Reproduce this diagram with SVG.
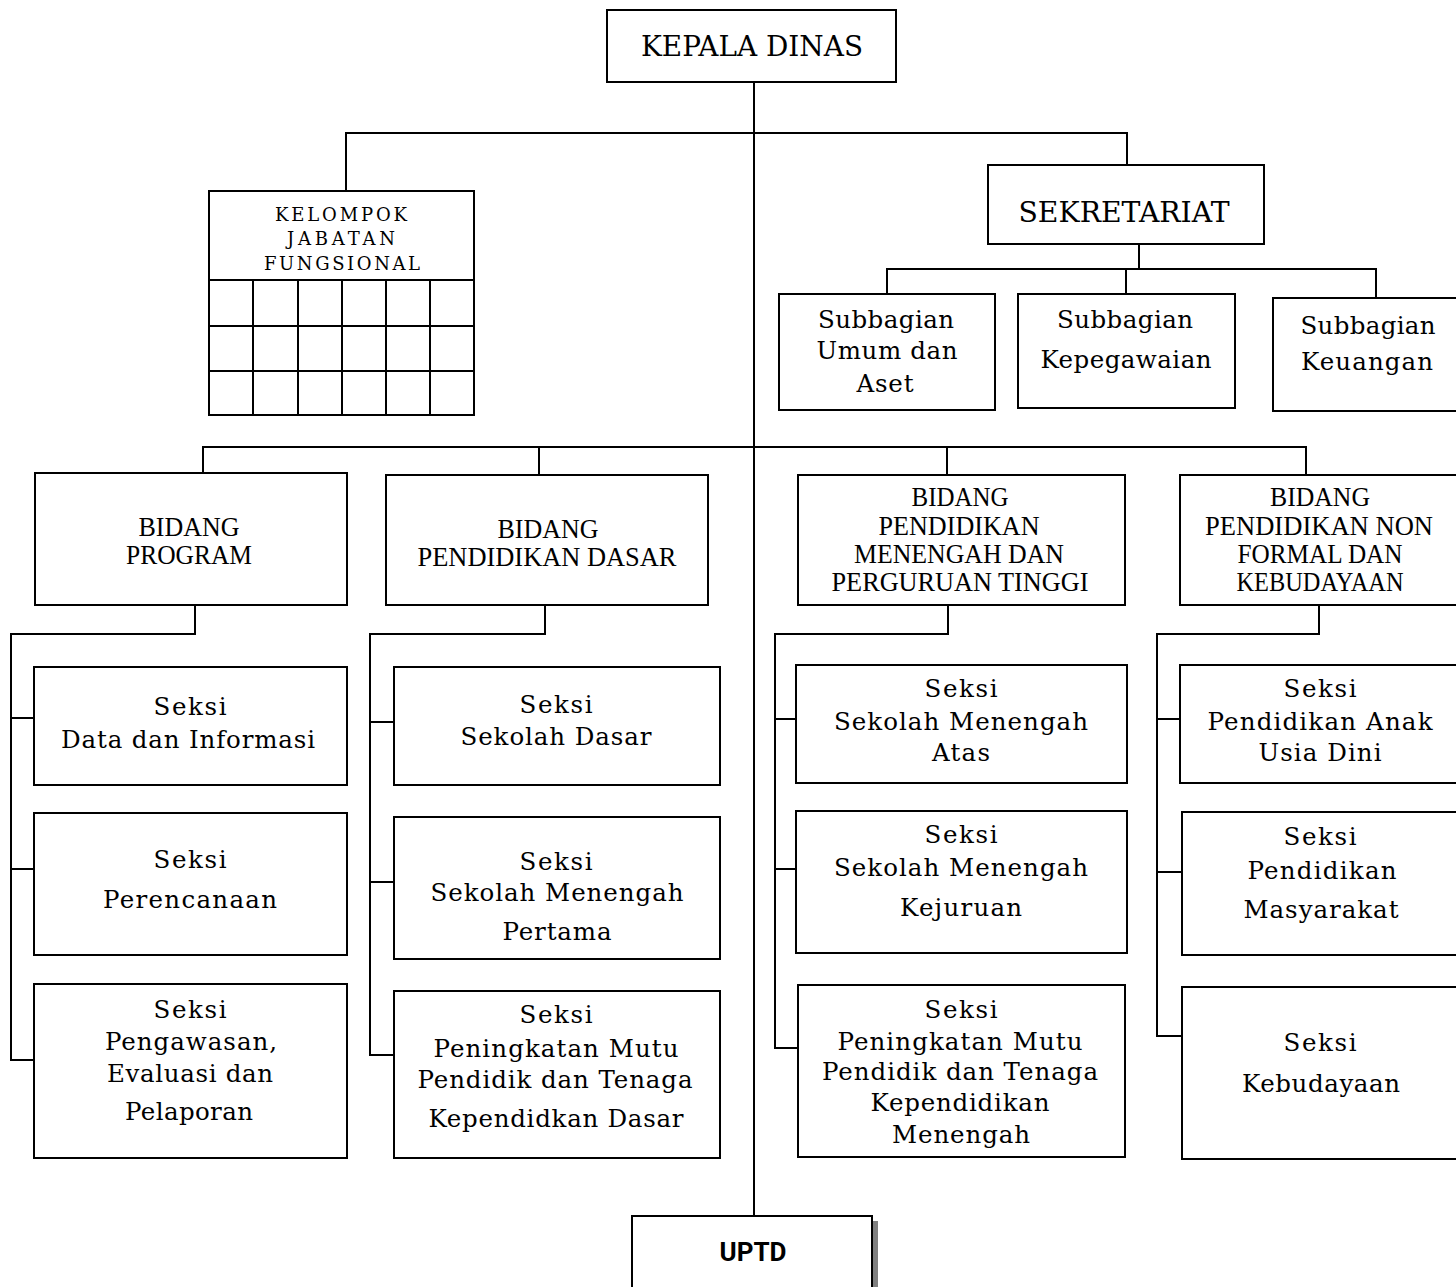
<svg xmlns="http://www.w3.org/2000/svg" width="1456" height="1287" viewBox="0 0 1456 1287">
<style>
.box{fill:#fff;stroke:#000;stroke-width:2}
.ln{fill:none;stroke:#000;stroke-width:2}
.hd{font-family:"DejaVu Serif","Liberation Serif",serif;font-size:27px;fill:#000;text-anchor:middle}
.kf{font-family:"DejaVu Serif","Liberation Serif",serif;font-size:18px;fill:#000;text-anchor:middle}
.bd{font-family:"Liberation Serif","DejaVu Serif",serif;font-size:27px;fill:#000;text-anchor:middle}
.sk{font-family:"DejaVu Serif","Liberation Serif",serif;font-size:24.5px;fill:#000;text-anchor:middle}
.up{font-family:Roboto,"Liberation Sans",sans-serif;font-size:25px;font-weight:bold;fill:#000;text-anchor:middle}
</style>
<g id="connectors">
<path class="ln" d="M754 82V1216"/>
<path class="ln" d="M346 190V133H1127V165"/>
<path class="ln" d="M1139 244V269"/>
<path class="ln" d="M887 294V269H1376V298"/>
<path class="ln" d="M1126 269V294"/>
<path class="ln" d="M203 473V447H1306V475"/>
<path class="ln" d="M539 447V475"/>
<path class="ln" d="M947 447V475"/>
<path class="ln" d="M195 605V634H11V1060H34"/>
<path class="ln" d="M11 718H34M11 869H34"/>
<path class="ln" d="M545 605V634H370V1055H394"/>
<path class="ln" d="M370 722H394M370 882H394"/>
<path class="ln" d="M948 605V634H775V1048H798"/>
<path class="ln" d="M775 719H796M775 869H796"/>
<path class="ln" d="M1319 605V634H1157V1036H1182"/>
<path class="ln" d="M1157 719H1180M1157 872H1182"/>
</g>
<g id="kepala-dinas">
<rect class="box" x="607" y="10" width="289" height="72"/>
<text class="hd" x="752" y="56" textLength="222" lengthAdjust="spacingAndGlyphs">KEPALA DINAS</text>
</g>
<g id="kelompok">
<rect class="box" x="209" y="191" width="265" height="224"/>
<path class="ln" d="M209 280H474M209 326H474M209 371H474M253 280V415M298 280V415M342 280V415M386 280V415M430 280V415"/>
<text class="kf" x="341" y="221" textLength="132" lengthAdjust="spacing">KELOMPOK</text>
<text class="kf" x="341" y="245" textLength="108" lengthAdjust="spacing">JABATAN</text>
<text class="kf" x="342" y="270" textLength="156" lengthAdjust="spacing">FUNGSIONAL</text>
</g>
<g id="sekretariat">
<rect class="box" x="988" y="165" width="276" height="79"/>
<text class="hd" x="1124" y="222" textLength="211" lengthAdjust="spacingAndGlyphs">SEKRETARIAT</text>
</g>
<g id="sub-umum">
<rect class="box" x="779" y="294" width="216" height="116"/>
<text class="sk" x="886" y="328" textLength="136" lengthAdjust="spacing">Subbagian</text>
<text class="sk" x="887" y="359" textLength="141" lengthAdjust="spacing">Umum dan</text>
<text class="sk" x="885" y="392" textLength="57" lengthAdjust="spacing">Aset</text>
</g>
<g id="sub-kepegawaian">
<rect class="box" x="1018" y="294" width="217" height="114"/>
<text class="sk" x="1125" y="328" textLength="136" lengthAdjust="spacing">Subbagian</text>
<text class="sk" x="1126" y="368" textLength="171" lengthAdjust="spacing">Kepegawaian</text>
</g>
<g id="sub-keuangan">
<rect class="box" x="1273" y="298" width="200" height="113"/>
<text class="sk" x="1368" y="334" textLength="135" lengthAdjust="spacing">Subbagian</text>
<text class="sk" x="1367" y="370" textLength="132" lengthAdjust="spacing">Keuangan</text>
</g>
<g id="bidang-program">
<rect class="box" x="35" y="473" width="312" height="132"/>
<text class="bd" x="189" y="536" textLength="101" lengthAdjust="spacingAndGlyphs">BIDANG</text>
<text class="bd" x="189" y="564" textLength="126" lengthAdjust="spacingAndGlyphs">PROGRAM</text>
</g>
<g id="bidang-dasar">
<rect class="box" x="386" y="475" width="322" height="130"/>
<text class="bd" x="548" y="538" textLength="101" lengthAdjust="spacingAndGlyphs">BIDANG</text>
<text class="bd" x="547" y="566" textLength="259" lengthAdjust="spacingAndGlyphs">PENDIDIKAN DASAR</text>
</g>
<g id="bidang-menengah">
<rect class="box" x="798" y="475" width="327" height="130"/>
<text class="bd" x="960" y="506" textLength="97" lengthAdjust="spacingAndGlyphs">BIDANG</text>
<text class="bd" x="959" y="535" textLength="161" lengthAdjust="spacingAndGlyphs">PENDIDIKAN</text>
<text class="bd" x="959" y="563" textLength="210" lengthAdjust="spacingAndGlyphs">MENENGAH DAN</text>
<text class="bd" x="960" y="591" textLength="257" lengthAdjust="spacingAndGlyphs">PERGURUAN TINGGI</text>
</g>
<g id="bidang-nonformal">
<rect class="box" x="1180" y="475" width="290" height="130"/>
<text class="bd" x="1320" y="506" textLength="100" lengthAdjust="spacingAndGlyphs">BIDANG</text>
<text class="bd" x="1319" y="535" textLength="228" lengthAdjust="spacingAndGlyphs">PENDIDIKAN NON</text>
<text class="bd" x="1320" y="563" textLength="165" lengthAdjust="spacingAndGlyphs">FORMAL DAN</text>
<text class="bd" x="1320" y="591" textLength="167" lengthAdjust="spacingAndGlyphs">KEBUDAYAAN</text>
</g>
<g id="seksi-data">
<rect class="box" x="34" y="667" width="313" height="118"/>
<text class="sk" x="190" y="715" textLength="73" lengthAdjust="spacing">Seksi</text>
<text class="sk" x="188" y="748" textLength="254" lengthAdjust="spacing">Data dan Informasi</text>
</g>
<g id="seksi-perencanaan">
<rect class="box" x="34" y="813" width="313" height="142"/>
<text class="sk" x="190" y="868" textLength="73" lengthAdjust="spacing">Seksi</text>
<text class="sk" x="190" y="908" textLength="174" lengthAdjust="spacing">Perencanaan</text>
</g>
<g id="seksi-pengawasan">
<rect class="box" x="34" y="984" width="313" height="174"/>
<text class="sk" x="190" y="1018" textLength="73" lengthAdjust="spacing">Seksi</text>
<text class="sk" x="191" y="1050" textLength="172" lengthAdjust="spacing">Pengawasan,</text>
<text class="sk" x="190" y="1082" textLength="166" lengthAdjust="spacing">Evaluasi dan</text>
<text class="sk" x="189" y="1120" textLength="128" lengthAdjust="spacing">Pelaporan</text>
</g>
<g id="seksi-sd">
<rect class="box" x="394" y="667" width="326" height="118"/>
<text class="sk" x="556" y="713" textLength="73" lengthAdjust="spacing">Seksi</text>
<text class="sk" x="556" y="745" textLength="191" lengthAdjust="spacing">Sekolah Dasar</text>
</g>
<g id="seksi-smp">
<rect class="box" x="394" y="817" width="326" height="142"/>
<text class="sk" x="556" y="870" textLength="73" lengthAdjust="spacing">Seksi</text>
<text class="sk" x="557" y="901" textLength="253" lengthAdjust="spacing">Sekolah Menengah</text>
<text class="sk" x="557" y="940" textLength="109" lengthAdjust="spacing">Pertama</text>
</g>
<g id="seksi-ptk-dasar">
<rect class="box" x="394" y="991" width="326" height="167"/>
<text class="sk" x="556" y="1023" textLength="73" lengthAdjust="spacing">Seksi</text>
<text class="sk" x="556" y="1057" textLength="245" lengthAdjust="spacing">Peningkatan Mutu</text>
<text class="sk" x="555" y="1088" textLength="275" lengthAdjust="spacing">Pendidik dan Tenaga</text>
<text class="sk" x="556" y="1127" textLength="255" lengthAdjust="spacing">Kependidkan Dasar</text>
</g>
<g id="seksi-sma">
<rect class="box" x="796" y="665" width="331" height="118"/>
<text class="sk" x="961" y="697" textLength="73" lengthAdjust="spacing">Seksi</text>
<text class="sk" x="961" y="730" textLength="254" lengthAdjust="spacing">Sekolah Menengah</text>
<text class="sk" x="961" y="761" textLength="58" lengthAdjust="spacing">Atas</text>
</g>
<g id="seksi-smk">
<rect class="box" x="796" y="811" width="331" height="142"/>
<text class="sk" x="961" y="843" textLength="73" lengthAdjust="spacing">Seksi</text>
<text class="sk" x="961" y="876" textLength="254" lengthAdjust="spacing">Sekolah Menengah</text>
<text class="sk" x="961" y="916" textLength="122" lengthAdjust="spacing">Kejuruan</text>
</g>
<g id="seksi-ptk-menengah">
<rect class="box" x="798" y="985" width="327" height="172"/>
<text class="sk" x="961" y="1018" textLength="73" lengthAdjust="spacing">Seksi</text>
<text class="sk" x="960" y="1050" textLength="245" lengthAdjust="spacing">Peningkatan Mutu</text>
<text class="sk" x="960" y="1080" textLength="276" lengthAdjust="spacing">Pendidik dan Tenaga</text>
<text class="sk" x="960" y="1111" textLength="179" lengthAdjust="spacing">Kependidikan</text>
<text class="sk" x="961" y="1143" textLength="138" lengthAdjust="spacing">Menengah</text>
</g>
<g id="seksi-paud">
<rect class="box" x="1180" y="665" width="290" height="118"/>
<text class="sk" x="1320" y="697" textLength="73" lengthAdjust="spacing">Seksi</text>
<text class="sk" x="1320" y="730" textLength="225" lengthAdjust="spacing">Pendidikan Anak</text>
<text class="sk" x="1320" y="761" textLength="123" lengthAdjust="spacing">Usia Dini</text>
</g>
<g id="seksi-masyarakat">
<rect class="box" x="1182" y="812" width="290" height="143"/>
<text class="sk" x="1320" y="845" textLength="73" lengthAdjust="spacing">Seksi</text>
<text class="sk" x="1322" y="879" textLength="149" lengthAdjust="spacing">Pendidikan</text>
<text class="sk" x="1321" y="918" textLength="155" lengthAdjust="spacing">Masyarakat</text>
</g>
<g id="seksi-kebudayaan">
<rect class="box" x="1182" y="987" width="290" height="172"/>
<text class="sk" x="1320" y="1051" textLength="73" lengthAdjust="spacing">Seksi</text>
<text class="sk" x="1321" y="1092" textLength="158" lengthAdjust="spacing">Kebudayaan</text>
</g>
<g id="uptd">
<rect x="873" y="1221" width="5" height="70" fill="#808080"/>
<rect class="box" x="632" y="1216" width="240" height="80"/>
<text class="up" x="753" y="1261" textLength="67" lengthAdjust="spacingAndGlyphs">UPTD</text>
</g>
</svg>
